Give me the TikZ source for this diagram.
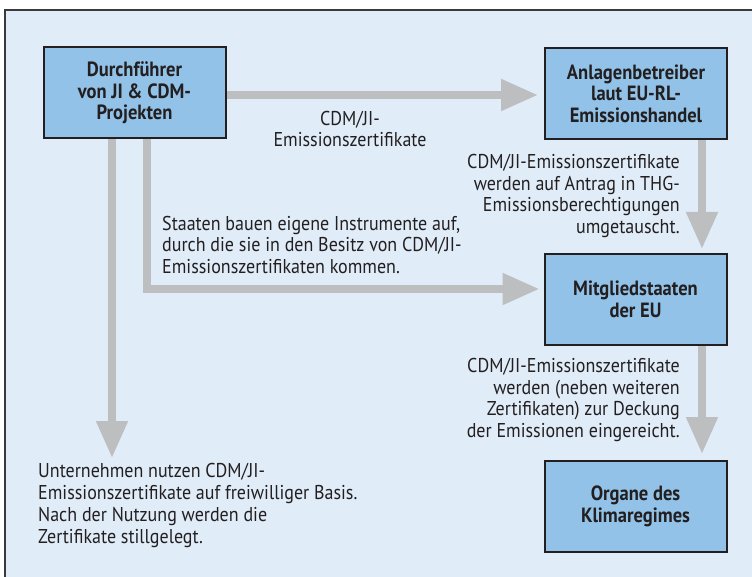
\documentclass[tikz,border=0pt]{standalone}
\usepackage{fontspec}
\setmainfont{PT Sans}[FakeStretch=0.9]
\usetikzlibrary{arrows.meta}
\definecolor{bgblue}{HTML}{E0ECF8}
\definecolor{boxblue}{HTML}{92C2E8}
\definecolor{arrgray}{HTML}{BDBEC0}
\definecolor{txt}{HTML}{231F20}
\definecolor{frame}{HTML}{3A3A3A}
\tikzset{
  actor/.style={draw=txt, line width=2pt, fill=boxblue, minimum width=182pt, minimum height=91pt,
    align=center, font=\fontsize{20.6}{21.5}\selectfont\bfseries, text=txt, inner sep=0pt},
  flow/.style={draw=arrgray, line width=8pt, line join=miter,
    -{Triangle[width=30pt,length=37pt]}},
  note/.style={font=\fontsize{20}{21.7}\selectfont, text=txt, inner sep=0pt}
}
\begin{document}
\begin{tikzpicture}[x=1pt,y=-1pt]
\useasboundingbox (0,0) rectangle (752,577);
\fill[white] (0,0) rectangle (752,577);
\fill[bgblue] (5,10) rectangle (752,577);
\draw[frame, line width=2pt] (5,577) -- (5,10) -- (752,10);

\node[actor] (dur) at (134.5,93) {Durchführer\\von JI \& CDM-\\Projekten};
\node[actor] (anl) at (636,93.5) {Anlagenbetreiber\\laut EU-RL-\\Emissionshandel};
\node[actor] (mit) at (635.5,299.5) {Mitgliedstaaten\\der EU};
\node[actor] (org) at (635.5,506.5) {Organe des\\Klimaregimes};

\coordinate (c1) at (112,458);

\draw[flow] (dur.east |- 0,95) -- ([xshift=-6pt]anl.west |- 0,95);
\draw[flow] (dur.south -| 147,0) |- ([xshift=-4pt]mit.west |- 0,289);
\draw[flow] (dur.south -| c1) -- (c1);
\draw[flow] (anl.south -| 702,0) -- ([yshift=4pt]mit.north -| 702,0);
\draw[flow] (mit.south -| 702,0) -- ([yshift=6pt]org.north -| 702,0);

\node[note, align=center] (t1) at (350,129) {CDM/JI-\\Emissionszertifikate};
\node[note, align=right, anchor=east] (t2) at (680,196) {CDM/JI-Emissionszertifikate\\werden auf Antrag in THG-\\Emissionsberechtigungen\\umgetauscht.};
\node[note, align=left, anchor=west] (t3) at (162,245) {Staaten bauen eigene Instrumente auf,\\durch die sie in den Besitz von CDM/JI-\\Emissionszertifikaten kommen.};
\node[note, align=right, anchor=east] (t4) at (680,400) {CDM/JI-Emissionszertifikate\\werden (neben weiteren\\Zertifikaten) zur Deckung\\der Emissionen eingereicht.};
\node[note, align=left, anchor=west] (t5) at (38,505.5) {Unternehmen nutzen CDM/JI-\\Emissionszertifikate auf freiwilliger Basis.\\Nach der Nutzung werden die\\Zertifikate stillgelegt.};
\end{tikzpicture}
\end{document}
